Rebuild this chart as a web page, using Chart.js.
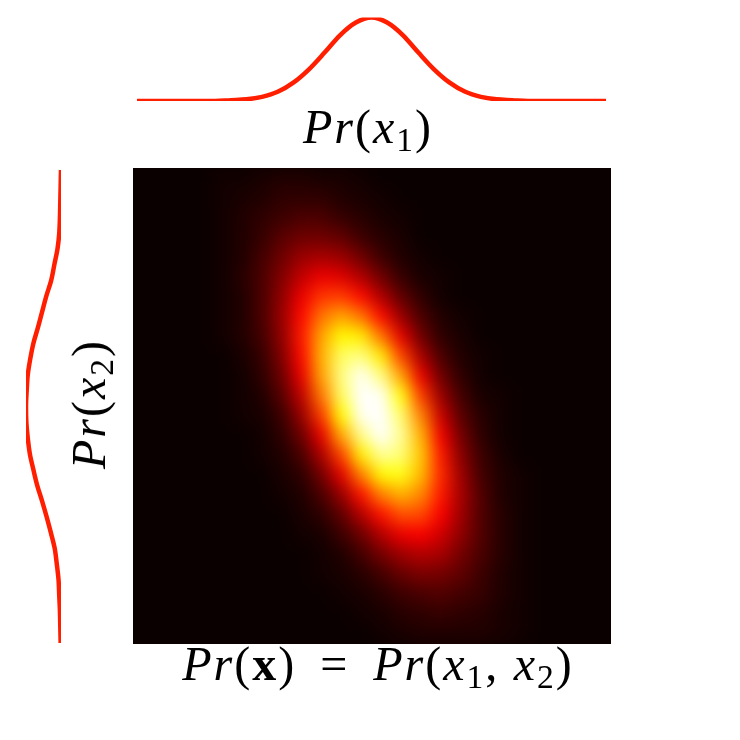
<!DOCTYPE html>
<html>
<head>
<meta charset="utf-8">
<script src="https://cdn.jsdelivr.net/npm/chart.js@4.4.1/dist/chart.umd.min.js"></script>
<style>
  html, body { margin: 0; background: #fff; }
  #page { position: relative; width: 740px; height: 740px; overflow: hidden; }
  .box { position: absolute; }
  #heatBox { left: 133px; top: 168px; width: 478px; height: 476px; overflow: hidden; background: #0b0000; }
  #heat { filter: blur(8px); }
  .lbl {
    position: absolute; white-space: nowrap;
    font-family: "Liberation Serif", serif; font-size: 48px; line-height: 48px;
    letter-spacing: 2px; color: #000;
  }
  .lbl sub { font-size: 0.7em; vertical-align: -0.25em; line-height: 0; font-style: normal; }
  .lbl b { font-style: normal; }
</style>
</head>
<body>
<div id="page">
  <div class="box" style="left:133px;top:5px;width:478px;height:105px"><canvas id="top" width="478" height="105"></canvas></div>
  <div class="box" style="left:0;top:160px;width:80px;height:495px"><canvas id="left" width="80" height="495"></canvas></div>
  <div class="box" id="heatBox"><canvas id="heat" width="478" height="476"></canvas></div>

  <div class="lbl" id="lblTop" style="left:368px;top:103px;transform:translateX(-50%)"><i>Pr</i>(<i>x</i><sub>1</sub>)</div>
  <div class="lbl" id="lblLeft" style="left:89px;top:404px;transform:translate(-50%,-50%) rotate(-90deg)"><i>Pr</i>(<i>x</i><sub>2</sub>)</div>
  <div class="lbl" id="lblBottom" style="left:378px;top:640px;transform:translateX(-50%)"><i>Pr</i>(<b>x</b>)<span style="margin:0 0.5em">=</span><i>Pr</i>(<i>x</i><sub>1</sub>,<span style="margin-left:0.3em"></span><i>x</i><sub>2</sub>)</div>
</div>

<script>
// marginal Pr(x1), top curve
const x1Values = [-3.0, -2.8, -2.6, -2.4, -2.2, -2.0, -1.8, -1.6, -1.4, -1.2, -1.0, -0.8, -0.6, -0.4, -0.2, 0,
  0.2, 0.4, 0.6, 0.8, 1.0, 1.2, 1.4, 1.6, 1.8, 2.0, 2.2, 2.4, 2.6, 2.8, 3.0];
const prX1 = [0, 0, 0, 0, 0, 0, 0.01, 0.02, 0.05, 0.11, 0.22, 0.38, 0.58, 0.79, 0.94, 1.00,
  0.94, 0.79, 0.58, 0.38, 0.22, 0.11, 0.05, 0.02, 0.01, 0, 0, 0, 0, 0, 0];

// marginal Pr(x2), left curve (top to bottom)
const x2Values = [3.0, 2.8, 2.6, 2.4, 2.2, 2.0, 1.8, 1.6, 1.4, 1.2, 1.0, 0.8, 0.6, 0.4, 0.2, 0,
  -0.2, -0.4, -0.6, -0.8, -1.0, -1.2, -1.4, -1.6, -1.8, -2.0, -2.2, -2.4, -2.6, -2.8, -3.0];
const prX2 = [0, 0.01, 0.02, 0.03, 0.05, 0.10, 0.19, 0.28, 0.42, 0.54, 0.66, 0.79, 0.88, 0.95, 0.98, 1.00,
  0.99, 0.95, 0.89, 0.79, 0.68, 0.54, 0.41, 0.29, 0.18, 0.12, 0.07, 0.05, 0.03, 0.02, 0.01];

// joint Pr(x1, x2) in percent of peak, 24 rows (top to bottom) x 24 columns
const density = [
  [0, 0, 0, 0, 1, 1, 2, 3, 3, 2, 2, 1, 0, 0, 0, 0, 0, 0, 0, 0, 0, 0, 0, 0],
  [0, 0, 0, 0, 1, 2, 3, 5, 5, 5, 3, 2, 1, 0, 0, 0, 0, 0, 0, 0, 0, 0, 0, 0],
  [0, 0, 0, 0, 1, 3, 5, 7, 9, 9, 6, 4, 2, 1, 0, 0, 0, 0, 0, 0, 0, 0, 0, 0],
  [0, 0, 0, 0, 1, 3, 6, 11, 14, 14, 12, 7, 4, 2, 0, 0, 0, 0, 0, 0, 0, 0, 0, 0],
  [0, 0, 0, 0, 1, 3, 8, 14, 20, 22, 20, 14, 7, 3, 1, 0, 0, 0, 0, 0, 0, 0, 0, 0],
  [0, 0, 0, 0, 1, 4, 9, 17, 26, 32, 30, 23, 14, 6, 2, 1, 0, 0, 0, 0, 0, 0, 0, 0],
  [0, 0, 0, 0, 1, 3, 9, 19, 32, 42, 43, 36, 23, 12, 5, 1, 0, 0, 0, 0, 0, 0, 0, 0],
  [0, 0, 0, 0, 1, 3, 9, 20, 36, 51, 58, 51, 36, 20, 9, 3, 1, 0, 0, 0, 0, 0, 0, 0],
  [0, 0, 0, 0, 1, 3, 8, 19, 38, 58, 70, 68, 51, 31, 14, 5, 2, 0, 0, 0, 0, 0, 0, 0],
  [0, 0, 0, 0, 0, 2, 6, 17, 36, 60, 80, 83, 68, 44, 22, 9, 3, 1, 0, 0, 0, 0, 0, 0],
  [0, 0, 0, 0, 0, 1, 5, 14, 32, 58, 83, 94, 83, 58, 32, 14, 5, 1, 0, 0, 0, 0, 0, 0],
  [0, 0, 0, 0, 0, 1, 3, 11, 26, 52, 80, 98, 94, 72, 43, 20, 8, 2, 1, 0, 0, 0, 0, 0],
  [0, 0, 0, 0, 0, 1, 2, 7, 20, 43, 71, 94, 98, 81, 53, 27, 11, 4, 1, 0, 0, 0, 0, 0],
  [0, 0, 0, 0, 0, 0, 1, 5, 14, 32, 59, 84, 95, 85, 60, 33, 15, 5, 1, 0, 0, 0, 0, 0],
  [0, 0, 0, 0, 0, 0, 1, 3, 9, 23, 44, 69, 85, 82, 63, 38, 18, 7, 2, 0, 0, 0, 0, 0],
  [0, 0, 0, 0, 0, 0, 0, 2, 5, 15, 31, 53, 70, 73, 61, 40, 21, 8, 3, 1, 0, 0, 0, 0],
  [0, 0, 0, 0, 0, 0, 0, 1, 3, 9, 20, 37, 53, 60, 54, 38, 22, 10, 3, 1, 0, 0, 0, 0],
  [0, 0, 0, 0, 0, 0, 0, 0, 2, 5, 12, 24, 37, 46, 45, 34, 21, 10, 4, 1, 0, 0, 0, 0],
  [0, 0, 0, 0, 0, 0, 0, 0, 1, 2, 7, 14, 24, 32, 34, 28, 19, 10, 4, 1, 0, 0, 0, 0],
  [0, 0, 0, 0, 0, 0, 0, 0, 0, 1, 3, 8, 15, 21, 24, 22, 15, 9, 4, 1, 0, 0, 0, 0],
  [0, 0, 0, 0, 0, 0, 0, 0, 0, 1, 2, 4, 8, 13, 16, 15, 12, 7, 3, 1, 0, 0, 0, 0],
  [0, 0, 0, 0, 0, 0, 0, 0, 0, 0, 1, 2, 4, 7, 9, 10, 8, 6, 3, 1, 0, 0, 0, 0],
  [0, 0, 0, 0, 0, 0, 0, 0, 0, 0, 0, 1, 2, 4, 5, 6, 5, 4, 2, 1, 0, 0, 0, 0],
  [0, 0, 0, 0, 0, 0, 0, 0, 0, 0, 0, 0, 1, 2, 3, 3, 3, 3, 2, 1, 0, 0, 0, 0]
];

const RED = '#ff1e00';
const VMAX = 95;

// matplotlib "hot" colour map
function hot(v) {
  const r = Math.min(1, 0.0416 + v / 0.365079 * 0.9584);
  const g = Math.min(1, Math.max(0, (v - 0.365079) / (0.746032 - 0.365079)));
  const b = Math.min(1, Math.max(0, (v - 0.746032) / (1 - 0.746032)));
  return `rgb(${Math.round(r * 255)},${Math.round(g * 255)},${Math.round(b * 255)})`;
}

const bare = {
  responsive: false,
  animation: false,
  events: [],
  plugins: { legend: { display: false }, tooltip: { enabled: false } }
};

// top marginal
new Chart(document.getElementById('top'), {
  type: 'line',
  data: {
    datasets: [{
      data: x1Values.map((x, i) => ({ x, y: prX1[i] })),
      borderColor: RED,
      borderWidth: 4.5,
      pointRadius: 0,
      cubicInterpolationMode: 'monotone',
      fill: false
    }]
  },
  options: {
    ...bare,
    layout: { padding: { left: 4, right: 5, top: 12.5, bottom: 9 } },
    scales: {
      x: { type: 'linear', min: -3, max: 3, display: false },
      y: { type: 'linear', min: 0, max: 1, display: false }
    }
  }
});

// left marginal, drawn sideways
new Chart(document.getElementById('left'), {
  type: 'line',
  data: {
    datasets: [{
      data: x2Values.map((y, i) => ({ x: prX2[i], y })),
      borderColor: RED,
      borderWidth: 4.5,
      pointRadius: 0,
      cubicInterpolationMode: 'monotone',
      fill: false
    }]
  },
  options: {
    ...bare,
    indexAxis: 'y',
    layout: { padding: { left: 26, right: 19, top: 10, bottom: 12 } },
    scales: {
      x: { type: 'linear', min: 0, max: 1, reverse: true, display: false },
      y: { type: 'linear', min: -3, max: 3, display: false }
    }
  }
});

// joint density as a grid of square cells
const cells = [];
density.forEach((row, j) => row.forEach((v, i) => cells.push({ x: i, y: j, v })));

new Chart(document.getElementById('heat'), {
  type: 'scatter',
  data: {
    datasets: [{
      data: cells,
      pointStyle: 'rect',
      pointBorderWidth: 0,
      pointRadius: (c) => {
        const xs = c.chart.scales.x;
        const w = Math.abs(xs.getPixelForValue(1) - xs.getPixelForValue(0));
        return (w + 1.5) / Math.SQRT2;
      },
      pointBackgroundColor: (c) => hot(c.raw ? Math.min(1, c.raw.v / VMAX) : 0)
    }]
  },
  options: {
    ...bare,
    layout: { padding: 0 },
    scales: {
      x: { type: 'linear', min: -0.5, max: 23.5, display: false },
      y: { type: 'linear', min: -0.5, max: 23.5, reverse: true, display: false }
    }
  }
});
</script>
</body>
</html>
